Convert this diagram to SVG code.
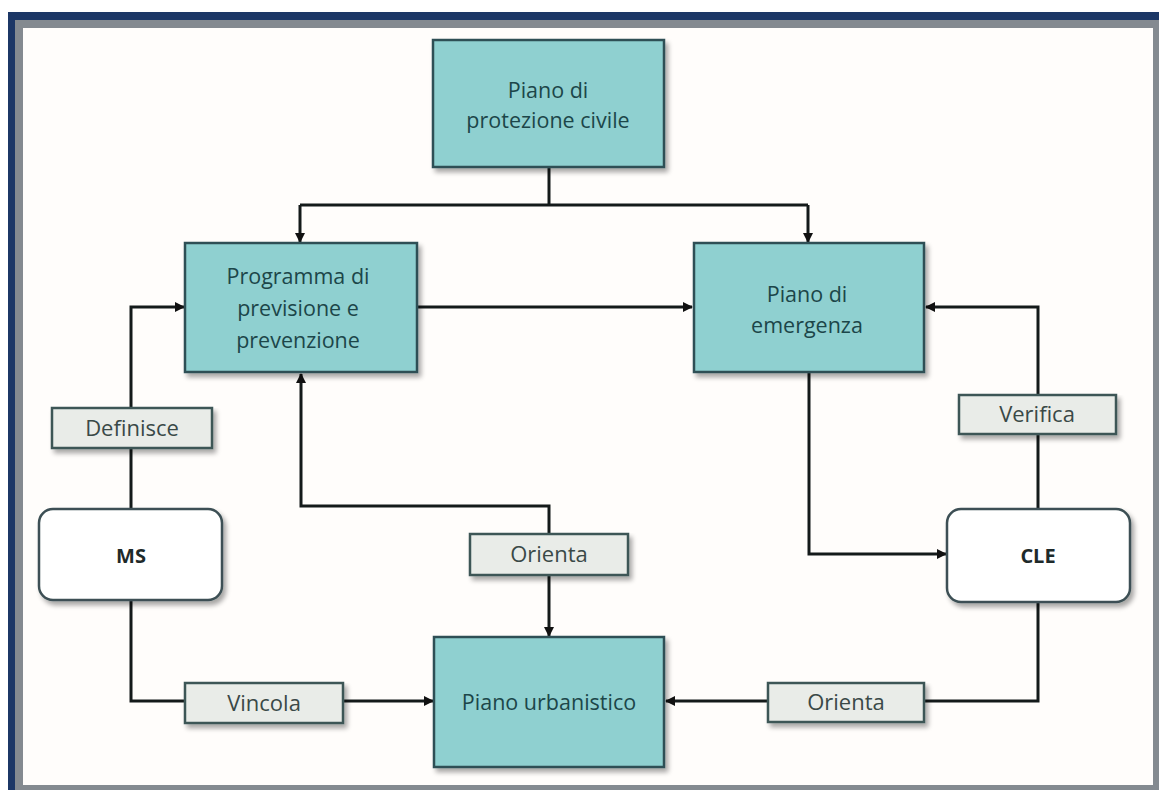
<svg xmlns="http://www.w3.org/2000/svg" width="1159" height="790" viewBox="0 0 1159 790">
<defs>
<marker id="arr" viewBox="0 0 10 10" refX="9" refY="5" markerWidth="10" markerHeight="10" markerUnits="userSpaceOnUse" orient="auto">
<path d="M0,0 L10,5 L0,10 z" fill="#111"/>
</marker>
<filter id="sh" x="-10%" y="-10%" width="130%" height="140%">
<feGaussianBlur in="SourceAlpha" stdDeviation="2.5"/>
<feOffset dx="3" dy="4" result="b"/>
<feComponentTransfer><feFuncA type="linear" slope="0.35"/></feComponentTransfer>
<feMerge><feMergeNode/><feMergeNode in="SourceGraphic"/></feMerge>
</filter>
</defs>
<style>
.teal{fill:#8fd0d0;stroke:#2d4f55;stroke-width:2.5}
.lab{fill:#e9ece8;stroke:#3c5757;stroke-width:2.5}
.rnd{fill:#ffffff;stroke:#3c5054;stroke-width:2.5}
.tt{font-family:"Open Sans","Liberation Sans",sans-serif;font-size:21.5px;fill:#1c4649;text-anchor:middle}
.lt{font-family:"Open Sans","Liberation Sans",sans-serif;font-size:22px;fill:#3a4947;text-anchor:middle}
.bt{font-family:"Open Sans","Liberation Sans",sans-serif;font-size:20px;font-weight:bold;fill:#1e2a2a;text-anchor:middle}
.c{fill:none;stroke:#141a1a;stroke-width:3}
</style>
<rect x="0" y="0" width="1159" height="790" fill="#ffffff"/>
<rect x="8" y="12" width="1151" height="778" fill="#1c3766"/>
<rect x="15" y="20" width="1144" height="770" fill="#848a90"/>
<rect x="23" y="28" width="1130" height="757" fill="#fffdfb"/>
<g id="connectors">
<path class="c" d="M549,168 V205"/>
<path class="c" d="M300,205 H808"/>
<path class="c" d="M300,205 V242" marker-end="url(#arr)"/>
<path class="c" d="M808,205 V242" marker-end="url(#arr)"/>
<path class="c" d="M418,307 H692" marker-end="url(#arr)"/>
<path class="c" d="M131,509 V307 H184" marker-end="url(#arr)"/>
<path class="c" d="M549,534 V506 H301 V374" marker-end="url(#arr)"/>
<path class="c" d="M549,576 V636" marker-end="url(#arr)"/>
<path class="c" d="M131,600 V701 H433" marker-end="url(#arr)"/>
<path class="c" d="M1038,509 V307 H926" marker-end="url(#arr)"/>
<path class="c" d="M809,373 V554 H946" marker-end="url(#arr)"/>
<path class="c" d="M1038,602 V701 H666" marker-end="url(#arr)"/>
</g>
<g id="n-protezione">
<rect class="teal" x="433" y="40" width="231" height="127" filter="url(#sh)"/>
<text class="tt" x="548" y="98">Piano di</text>
<text class="tt" x="548" y="128">protezione  civile</text>
</g>
<g id="n-programma">
<rect class="teal" x="185" y="243" width="232" height="129" filter="url(#sh)"/>
<text class="tt" x="298" y="284">Programma  di</text>
<text class="tt" x="298" y="316">previsione e</text>
<text class="tt" x="298" y="348">prevenzione</text>
</g>
<g id="n-emergenza">
<rect class="teal" x="694" y="243" width="230" height="129" filter="url(#sh)"/>
<text class="tt" x="807" y="302">Piano di</text>
<text class="tt" x="807" y="333">emergenza</text>
</g>
<g id="n-urbanistico">
<rect class="teal" x="434" y="637" width="230" height="130" filter="url(#sh)"/>
<text class="tt" x="549" y="710">Piano urbanistico</text>
</g>
<g id="n-ms">
<rect class="rnd" x="39" y="509" width="183" height="91" rx="14" filter="url(#sh)"/>
<text class="bt" x="131" y="563">MS</text>
</g>
<g id="n-cle">
<rect class="rnd" x="947" y="509" width="183" height="93" rx="14" filter="url(#sh)"/>
<text class="bt" x="1038" y="563">CLE</text>
</g>
<g id="l-definisce">
<rect class="lab" x="52" y="408" width="160" height="40" filter="url(#sh)"/>
<text class="lt" x="132" y="436">Definisce</text>
</g>
<g id="l-vincola">
<rect class="lab" x="185" y="683" width="158" height="40" filter="url(#sh)"/>
<text class="lt" x="264" y="711">Vincola</text>
</g>
<g id="l-orienta1">
<rect class="lab" x="470" y="534" width="158" height="41" filter="url(#sh)"/>
<text class="lt" x="549" y="562">Orienta</text>
</g>
<g id="l-verifica">
<rect class="lab" x="959" y="395" width="157" height="39" filter="url(#sh)"/>
<text class="lt" x="1037" y="422">Verifica</text>
</g>
<g id="l-orienta2">
<rect class="lab" x="768" y="683" width="156" height="39" filter="url(#sh)"/>
<text class="lt" x="846" y="710">Orienta</text>
</g>
</svg>
